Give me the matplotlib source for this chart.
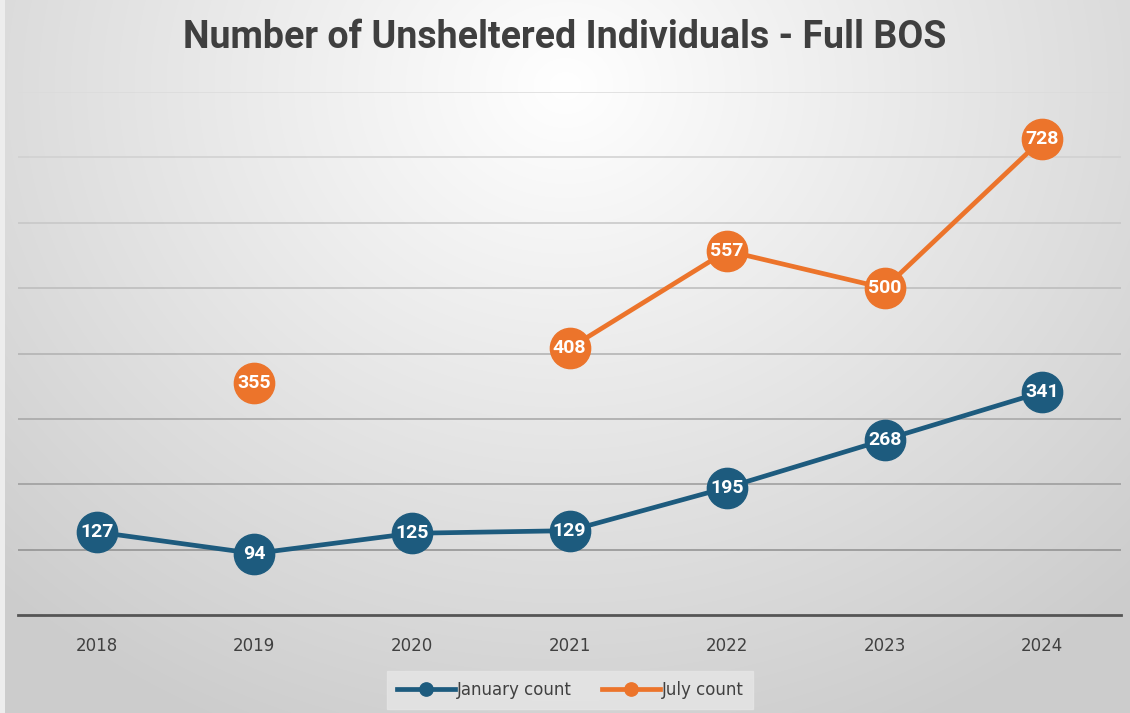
import numpy as np
import matplotlib
matplotlib.use("Agg")
import matplotlib.pyplot as plt
from matplotlib import font_manager

years = ["2018", "2019", "2020", "2021", "2022", "2023", "2024"]
january = [127, 94, 125, 129, 195, 268, 341]
july = [np.nan, 355, np.nan, 408, 557, 500, 728]

names = {f.name for f in font_manager.fontManager.ttflist}
cond = "Liberation Sans Narrow" if "Liberation Sans Narrow" in names else "Roboto"

W, H = 1130, 713
fig = plt.figure(figsize=(W / 100, H / 100), dpi=100)

# background radial gradient
bg = fig.add_axes([0, 0, 1, 1], zorder=0)
yy, xx = np.mgrid[0:H, 0:W]
cx, cy = W * 0.5, H * 0.12
r = np.sqrt(((xx - cx) / (W * 0.72)) ** 2 + ((yy - cy) / (H * 1.0)) ** 2)
v = np.clip(1.0 - 0.2 * r, 0.8, 1.0)
img = np.dstack([v, v, v])
img[:, :5] = 0.93
bg.imshow(img, aspect="auto", extent=[0, 1, 0, 1], origin="upper")
bg.axis("off")

ax = fig.add_axes([18 / W, 1 - 615 / H, (1121 - 18) / W, (615 - 92) / H], zorder=1)
ax.patch.set_alpha(0)
x = np.arange(len(years))
blue = "#1d5b7e"
orange = "#ec742b"

ax.plot(x, january, color=blue, lw=3.4, marker="o", ms=29, zorder=3, label="January count")
jv = np.array(july, dtype=float)
ax.plot(x, jv, color=orange, lw=3.4, marker="o", ms=29, zorder=3, label="July count")

lab_font = [cond, "DejaVu Sans"]
for xi, val in zip(x, january):
    ax.text(xi, val, f"{val}", ha="center", va="center", color="white",
            fontsize=14, fontweight="bold", family=lab_font, zorder=4)
for xi, val in zip(x, jv):
    if not np.isnan(val):
        ax.text(xi, val, f"{int(val)}", ha="center", va="center", color="white",
                fontsize=14, fontweight="bold", family=lab_font, zorder=4)

ax.set_xlim(-0.5, len(years) - 0.5)
ax.set_ylim(0, 800)
gticks = np.arange(100, 801, 100)
ax.set_yticks(gticks)
for g in gticks:
    t = g / 800.0
    c = 0.52 + 0.34 * t
    ax.axhline(g, color=(c, c, c), lw=1.1, zorder=1)
ax.tick_params(axis="y", length=0, labelleft=False)
ax.tick_params(axis="x", length=0, pad=16, labelsize=12, labelcolor="#404040")
ax.set_xticks(x)
ax.set_xticklabels(years)
for s in ["top", "right", "left"]:
    ax.spines[s].set_visible(False)
ax.spines["bottom"].set_color("#555555")
ax.spines["bottom"].set_linewidth(2)

fig.text(0.5, 1 - 37 / H, "Number of Unsheltered Individuals - Full BOS", ha="center", va="center",
         fontsize=27, fontweight="bold", color="#3f3f3f", family=lab_font)

leg = ax.legend(loc="center", bbox_to_anchor=(570 / W, 1 - 690 / H), bbox_transform=fig.transFigure,
                ncol=2, frameon=True, fontsize=12, markerscale=0.33, handlelength=3.5,
                handletextpad=0.1, columnspacing=1.8, borderpad=0.6, fancybox=False)
leg.get_frame().set_facecolor("#e6e6e6")
leg.get_frame().set_edgecolor("#e6e6e6")
for t in leg.get_texts():
    t.set_color("#404040")

fig.savefig("out.png", dpi=100)
